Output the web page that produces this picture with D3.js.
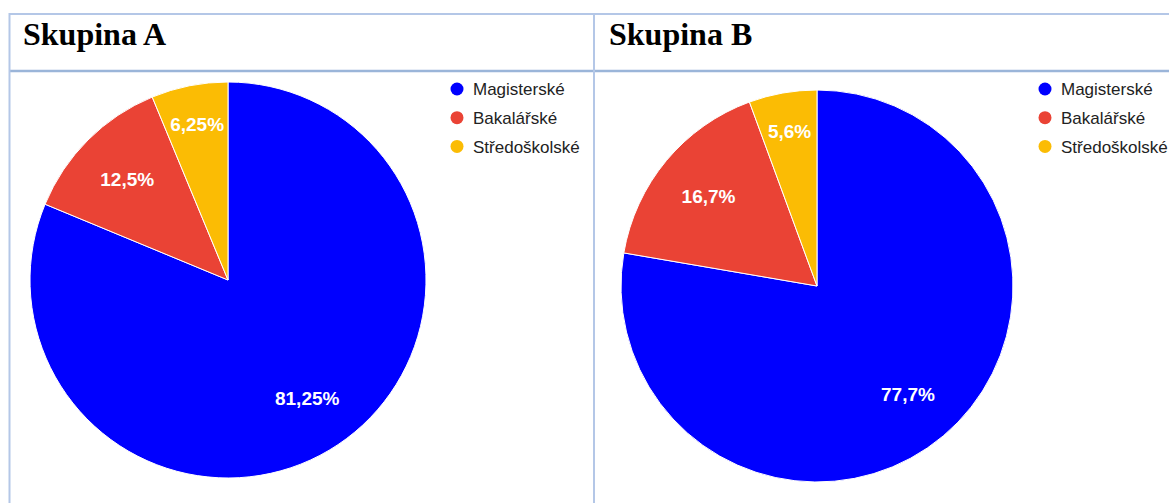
<!DOCTYPE html>
<html>
<head>
<meta charset="utf-8">
<script src="https://cdn.jsdelivr.net/npm/d3@7"></script>
<style>
  body { margin: 0; background: #fff; }
  svg { display: block; }
</style>
</head>
<body>
<div id="chart"></div>
<script>
// data
const categories = ["Magisterské", "Bakalářské", "Středoškolské"];
const groupNames = ["Skupina A", "Skupina B"];
const valuesA = [81.25, 12.5, 6.25];
const valuesB = [77.7, 16.7, 5.6];
const colors = ["#0000ff", "#ea4335", "#fbbc04"];

const w = 1169, h = 503;
const svg = d3.select("#chart").append("svg")
  .attr("width", w)
  .attr("height", h);

// table borders
const lineCol = "#b4c7e7";
svg.append("line").attr("x1", 9).attr("x2", w).attr("y1", 14).attr("y2", 14)
  .attr("stroke", lineCol).attr("stroke-width", 2);
svg.append("line").attr("x1", 9).attr("x2", w).attr("y1", 71).attr("y2", 71)
  .attr("stroke", "#9bb5d9").attr("stroke-width", 2.5);
[9.5, 594].forEach(x => {
  svg.append("line").attr("x1", x).attr("x2", x).attr("y1", 13).attr("y2", h)
    .attr("stroke", lineCol).attr("stroke-width", 2);
});

// color scale
const color = d3.scaleOrdinal().domain(categories).range(colors);
const fmt = v => String(v).replace(".", ",") + "%";

function drawPanel(values, title, titleX, cx, cy, r, legendX) {
  const g = svg.append("g");
  g.append("text")
    .attr("x", titleX).attr("y", 45)
    .style("font-family", "'Liberation Serif', 'Times New Roman', serif")
    .style("font-weight", "bold")
    .style("font-size", "32px")
    .attr("fill", "#000")
    .text(title);

  const data = categories.map((c, i) => ({ cat: c, value: values[i] }));
  const pie = d3.pie().sort(null).value(d => d.value);
  const arc = d3.arc().innerRadius(0).outerRadius(r);
  // narrow slices get their label pushed further out
  const labelPos = d => {
    const k = (d.endAngle - d.startAngle) < 0.5 ? 0.8 : 0.72;
    return d3.arc().innerRadius(r * k).outerRadius(r * k).centroid(d);
  };

  const pg = g.append("g").attr("transform", `translate(${cx},${cy})`);
  const arcs = pie(data);
  pg.selectAll("path").data(arcs).enter().append("path")
    .attr("d", arc)
    .attr("fill", d => color(d.data.cat))
    .attr("stroke", "#fff")
    .attr("stroke-width", 1);

  pg.selectAll("text").data(arcs).enter().append("text")
    .attr("transform", d => `translate(${labelPos(d)})`)
    .attr("dy", "0.36em")
    .attr("text-anchor", "middle")
    .style("font-family", "'Liberation Sans', Arial, sans-serif")
    .style("font-weight", "bold")
    .style("font-size", "19px")
    .attr("fill", "#fff")
    .text(d => fmt(d.data.value));

  // legend
  const legend = g.selectAll(".legend").data(categories).enter().append("g")
    .attr("class", "legend")
    .attr("transform", (d, i) => `translate(${legendX},${89 + i * 28.7})`);
  legend.append("circle")
    .attr("r", 6.5)
    .attr("fill", d => color(d));
  legend.append("text")
    .attr("x", 16).attr("dy", "0.36em")
    .style("font-family", "'Liberation Sans', Arial, sans-serif")
    .style("font-size", "17px")
    .attr("fill", "#222")
    .text(d => d);
}

drawPanel(valuesA, groupNames[0], 23, 228, 280, 198, 457);
drawPanel(valuesB, groupNames[1], 609, 817, 286, 196, 1045);
</script>
</body>
</html>
